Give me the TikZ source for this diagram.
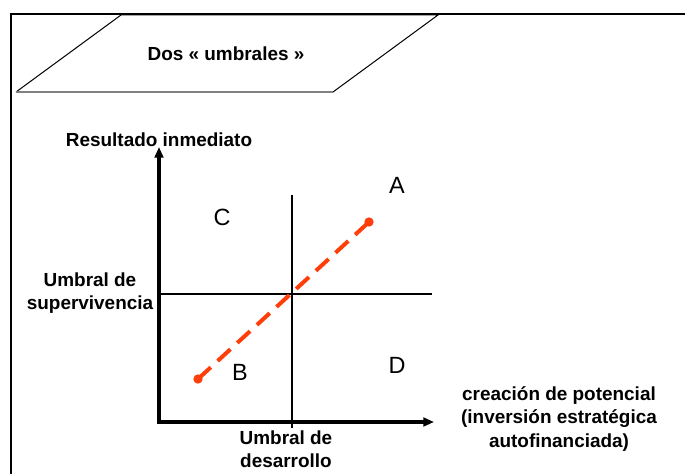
\documentclass[tikz,border=0pt]{standalone}
\usepackage{fontspec}
\setmainfont{Liberation Sans}
\usepackage{tikz}
\usetikzlibrary{calc,positioning,arrows.meta}

\begin{document}
\begin{tikzpicture}[
    x=0.75pt, y=-0.75pt,
    axisstyle/.style = {
        line width=3pt,
        -{Triangle[length=8pt, width=6.5pt]}
    },
    limitline/.style = {
        line width=1.7pt
    },
    framestyle/.style = {
        line width=1.5pt
    },
    pathstyle/.style = {
        line width=3pt,
        dash pattern=on 13pt off 7pt,
        color=redorange
    },
    dotstyle/.style = {
        circle,
        fill=redorange,
        inner sep=0pt,
        minimum size=7pt
    },
    axislabel/.style = {
        font=\fontsize{14.2}{17}\selectfont\bfseries,
        align=center,
        inner sep=0pt
    },
    zonelabel/.style = {
        font=\fontsize{17.6}{20}\selectfont,
        inner sep=0pt
    }
]
\definecolor{redorange}{RGB}{255,62,10}

\useasboundingbox (0,0) rectangle (685,474);

% --- Cadre ---
\draw[framestyle] (11,474) -- (11,14) -- (685,14);

% --- Titre ---
\draw[line width=0.75pt] (333,92) -- (438,15) -- (121,15) -- (16,92);
\draw[line width=1pt, gray] (16,92) -- (333,92);
\node[font=\fontsize{14.2}{17}\selectfont\bfseries] (title) at (226,54) {Dos « umbrales »};

% --- Axes ---
\coordinate (origin) at (159,422);
\coordinate (ytop) at (159,147);
\coordinate (xend) at (434,422);
\draw[axisstyle] ($(origin)+(0,1.5)$) -- (ytop);
\draw[axisstyle] ($(origin)-(1.5,0)$) -- (xend);

% --- Umbrales ---
\coordinate (devtop) at (292,195);
\coordinate (devbot) at (292,428);
\coordinate (survleft) at (159,294);
\coordinate (survright) at (432,294);
\draw[limitline] (devtop) -- (devbot);
\draw[limitline] (survleft) -- (survright);

% --- Trayectoria ---
\node[dotstyle] (start) at (198,379) {};
\node[dotstyle] (finish) at (369,222) {};
\draw[pathstyle] (start.center) -- (finish.center);

% --- Zonas ---
\node[zonelabel] (zoneA) at (397,185) {A};
\node[zonelabel] (zoneB) at (240,372) {B};
\node[zonelabel] (zoneC) at (222,217) {C};
\node[zonelabel] (zoneD) at (397,365) {D};

% --- Etiquetas ---
\node[axislabel] (ylabel) at (159,140) {Resultado inmediato};
\node[axislabel] (survlabel) at (90,293) {Umbral de\\supervivencia};
\node[axislabel] (devlabel) at (286,449) {Umbral de\\desarrollo};
\node[axislabel, font=\fontsize{14.2}{17.5}\selectfont\bfseries] (xlabel) at (559,419)
    {creación de potencial\\(inversión estratégica\\autofinanciada)};

\end{tikzpicture}
\end{document}
